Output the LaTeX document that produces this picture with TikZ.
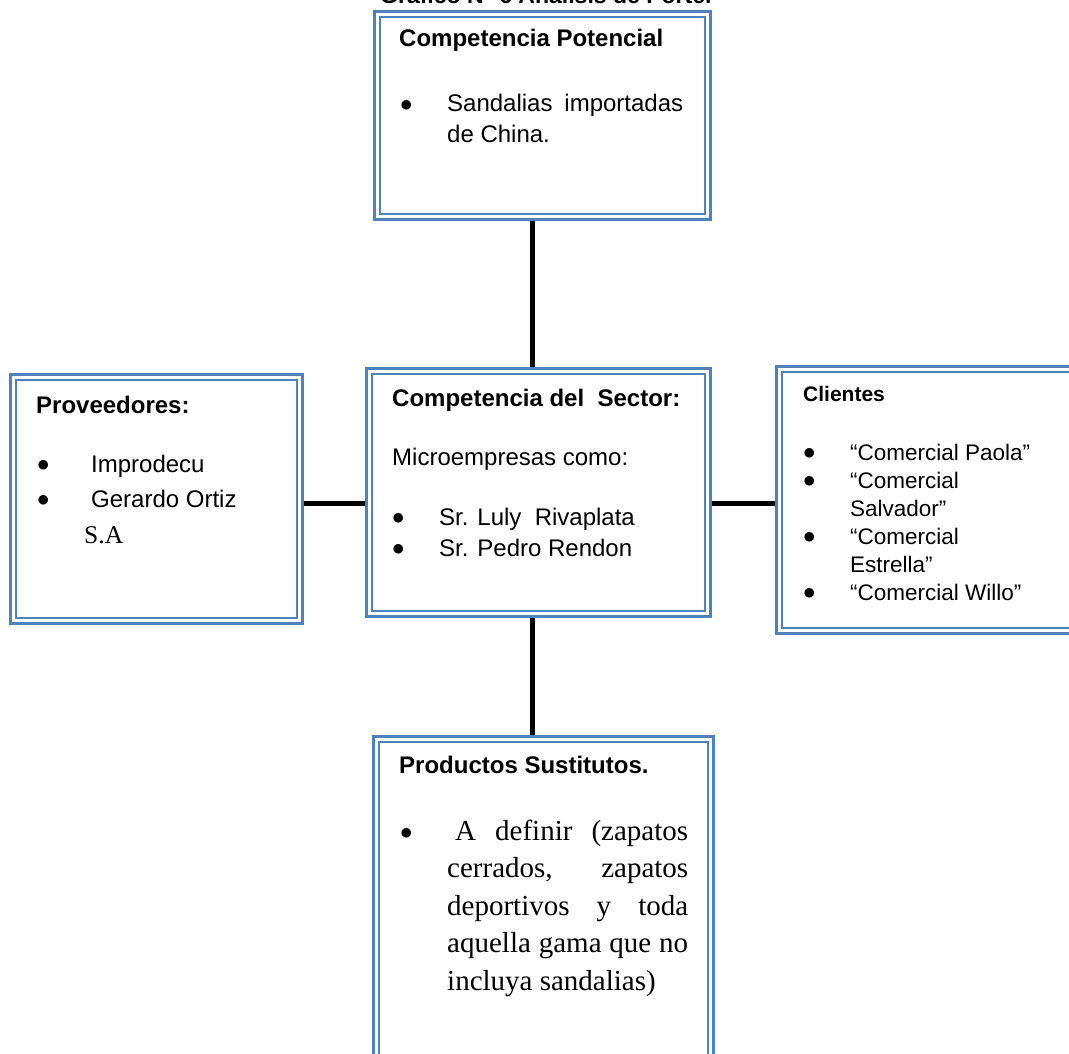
\documentclass[tikz,border=0pt]{standalone}
\usepackage{fontspec}
\setmainfont{Liberation Sans}
\newfontfamily\timesfont{Liberation Serif}
\usetikzlibrary{positioning,calc}
\definecolor{boxblue}{HTML}{4F81BD}
\newcommand{\bulitem}[2]{\hangindent=#1\hangafter=1\makebox[#1][l]{\fontsize{26}{26}\selectfont\raisebox{0.5pt}{$\bullet$}}#2\par}

\begin{document}
\begin{tikzpicture}[x=1pt,y=-1pt,
   box/.style={draw=boxblue, line width=2.7pt, double=white, double distance=3pt, rectangle, inner sep=0pt, outer sep=4.2pt},
   link/.style={line width=5pt, black},
   head/.style={anchor=base west, inner sep=0pt, font=\fontsize{24}{31}\selectfont\bfseries},
   txt/.style={anchor=base west, inner sep=0pt, font=\fontsize{24}{31}\selectfont, align=justify}]

   \useasboundingbox (0,0) rectangle (1069,1054);
   \clip (0,0) rectangle (1069,1054);
   \fill[white] (0,0) rectangle (1069,1054);

   \node[head, font=\fontsize{23}{28}\selectfont\bfseries] (titulo) at (380,4) {Gráfico N° 6 Análisis de Porter};

   % las cinco fuerzas
   \node[box, minimum width=330.6pt, minimum height=202.6pt] (potencial) at (542.5,115.5) {};
   \node[box, minimum width=338.6pt, minimum height=242.6pt] (sector) at (538.5,492.5) {};
   \node[box, minimum width=286.6pt, minimum height=243.6pt] (proveedores) at (156.5,499) {};
   \node[box, minimum width=301.6pt, minimum height=261.6pt] (clientes) at (930,500) {};
   \node[box, minimum width=334.6pt, minimum height=331.6pt] (sustitutos) at (543.5,905) {};

   \draw[link] ([xshift=-6.5pt]sector.north) -- ([xshift=-6.5pt]sector.north |- potencial.south);
   \draw[link] ([xshift=-6.5pt]sector.south) -- ([xshift=-6.5pt]sector.south |- sustitutos.north);
   \draw[link] ([yshift=-10.5pt]sector.west) -- ([yshift=-10.5pt]sector.west -| proveedores.east);
   \draw[link] ([yshift=-10.5pt]sector.east) -- ([yshift=-10.5pt]sector.east -| clientes.west);

   \node[head] (potencialtit) at (399,47) {Competencia Potencial};
   \node[txt, text width=283pt] (potenciallista) at (400,112) {\bulitem{47pt}{Sandalias importadas\linebreak de China.}};

   \node[head] (sectortit) at (392,406) {Competencia del\ \ Sector:};
   \node[txt] (sectorintro) at (392,465) {Microempresas como:};
   \node[txt, text width=300pt] (sectorlista) at (392,525) {\bulitem{47pt}{Sr. Luly\ \ Rivaplata}\bulitem{47pt}{Sr. Pedro Rendon}};

   \node[head] (proveedorestit) at (36,413) {Proveedores:};
   \node[txt, text width=240pt, font=\fontsize{24}{35}\selectfont] (proveedoreslista) at (37,472) {\bulitem{54pt}{Improdecu}\bulitem{54pt}{Gerardo Ortiz}};
   \node[anchor=base west, inner sep=0pt, font=\timesfont\fontsize{25.5}{30}\selectfont] (proveedoressa) at (84,543) {S.A};

   \node[head, font=\fontsize{21}{26}\selectfont\bfseries] (clientestit) at (803,401) {Clientes};
   \node[txt, text width=240pt, font=\fontsize{22.5}{28}\selectfont] (clienteslista) at (803,460) {\bulitem{47pt}{“Comercial Paola”}\bulitem{47pt}{“Comercial\newline Salvador”}\bulitem{47pt}{“Comercial\newline Estrella”}\bulitem{47pt}{“Comercial Willo”}};

   \node[head] (sustitutostit) at (399,773) {Productos Sustitutos.};
   \node[txt, text width=288pt, font=\timesfont\fontsize{29}{37.5}\selectfont] (sustitutoslista) at (400,840) {\bulitem{47pt}{\hspace{8pt}A definir (zapatos\linebreak cerrados, zapatos\linebreak deportivos y toda\linebreak aquella gama que no\linebreak incluya sandalias)}};

\end{tikzpicture}
\end{document}
